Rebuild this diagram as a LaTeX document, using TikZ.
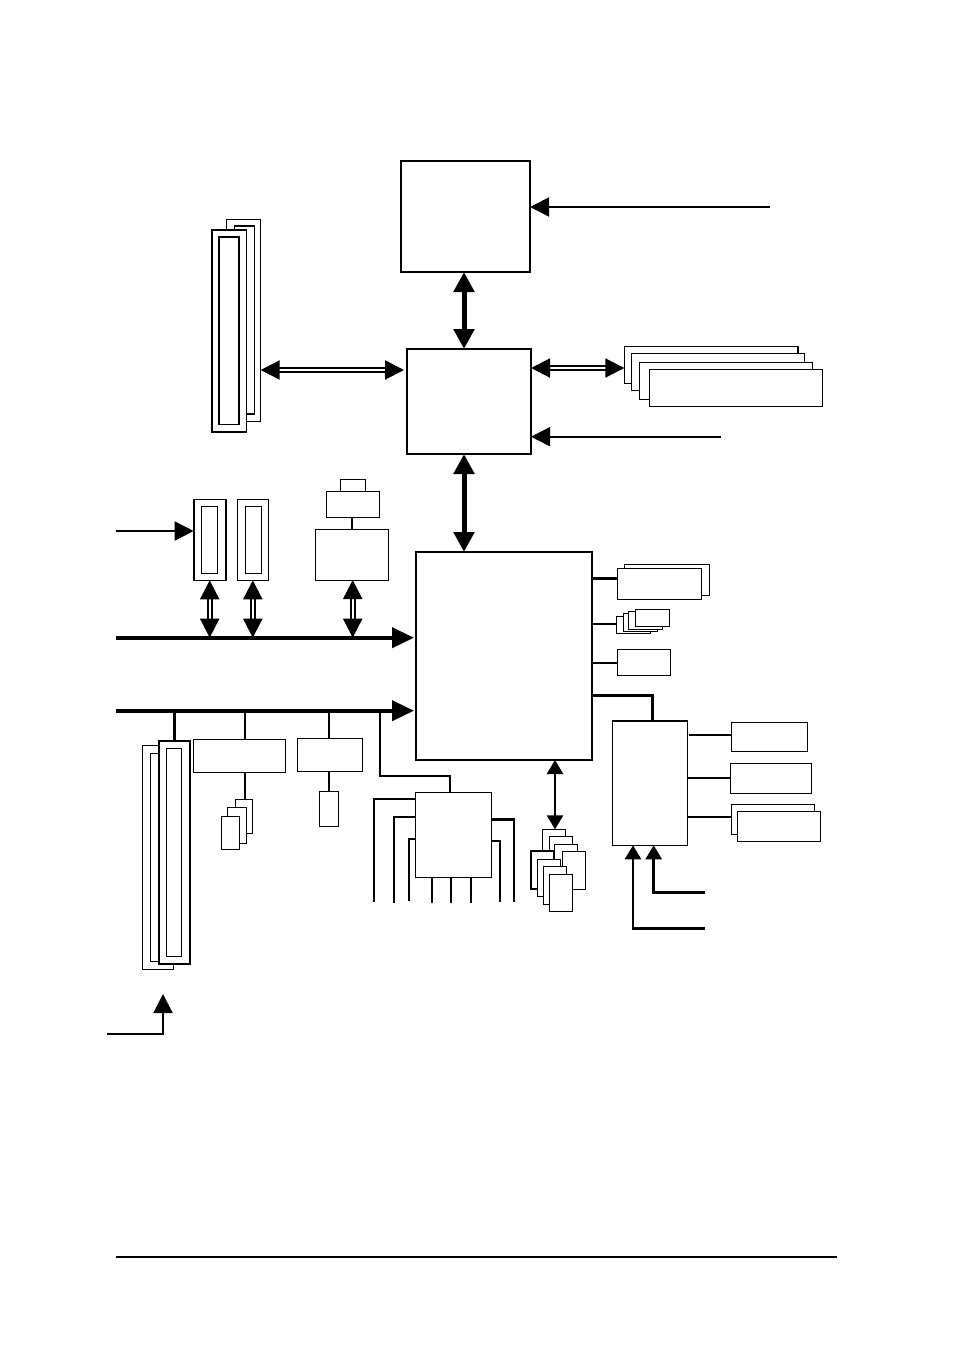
\documentclass[tikz,border=0pt]{standalone}
\usepackage{tikz}
\usetikzlibrary{arrows.meta}

\begin{document}
\begin{tikzpicture}[
    x=1pt, y=-1pt,
    box/.style={
        rectangle, draw=black, fill=white, line width=1.4pt,
        anchor=north west, inner sep=0pt, outer sep=0pt
    },
    chip/.style={box, line width=2pt},
    wh/.style 2 args={minimum width=#1pt, minimum height=#2pt},
    wire/.style={line width=2pt},
    fatwire/.style={line width=2.8pt},
    inarrow/.style={-{Triangle[length=19pt,width=19pt]}, line width=2pt},
    uparrow/.style={-{Triangle[length=14pt,width=16pt]}, line width=2.6pt, line join=miter},
    busarrow/.style={-{Triangle[length=22pt,width=20pt]}, line width=4pt},
    bigboth/.style={arrows={{Triangle[length=20pt,width=20pt]}-{Triangle[length=20pt,width=20pt]}}, line width=5pt},
    thinboth/.style={arrows={{Triangle[length=14pt,width=16pt]}-{Triangle[length=14pt,width=16pt]}}, line width=2.6pt},
    twinboth/.style={arrows={{Triangle[length=19pt,width=19pt]}-{Triangle[length=19pt,width=19pt]}}, double, double distance=2.4pt, line width=2pt}
]
\useasboundingbox (0,0) rectangle (953,1352);

% Top row
\node[chip, wh={129}{111}, line width=2.6pt] (cpu) at (401,161) {};
\node[chip, wh={124}{105}] (north) at (407,349) {};
\node[chip, wh={176}{208}] (south) at (416,552) {};

% Memory slots
\node[box, wh={34.5}{202}] (dimmb) at (226.2,219.5) {};
\node[box, wh={20}{188}] (dimmbi) at (234.3,226) {};
\node[box, wh={34.5}{202}, line width=1.7pt] (dimma) at (212,230) {};
\node[box, wh={20}{187.5}] (dimmai) at (219,237) {};

% AGP stack
\node[box, wh={173.5}{37}] (agpa) at (624.3,346.4) {};
\node[box, wh={173.5}{37}] (agpb) at (631.2,353.4) {};
\node[box, wh={173.5}{37}] (agpc) at (639.2,362.2) {};
\node[box, wh={173.5}{37}] (agpd) at (649.2,369.3) {};

% PCI slots and the card above the bus
\node[box, wh={32}{81}, line width=1.6pt] (pcia) at (193.7,499.3) {};
\node[box, wh={16}{67}] (pciai) at (201.4,506.3) {};
\node[box, wh={31}{81}] (pcib) at (237.3,499.3) {};
\node[box, wh={16.4}{67}] (pcibi) at (245.3,506.3) {};
\node[box, wh={25.4}{12}] (sockb) at (340.3,479.3) {};
\node[box, wh={53.4}{26}] (socka) at (326.3,491.3) {};
\node[box, wh={73.4}{51}] (riser) at (315.3,529.3) {};

% PCI Express slots
\node[box, wh={31.4}{223.6}] (pcieb) at (142.3,745.7) {};
\node[box, wh={24}{208}] (pciebi) at (150.3,753.3) {};
\node[box, wh={31}{223.6}, line width=1.7pt] (pciea) at (158.7,740.7) {};
\node[box, wh={15.4}{208.4}] (pcieai) at (166.3,748.3) {};

% Under the second bus
\node[box, wh={92}{33}] (ctla) at (193.3,739.3) {};
\node[box, wh={65.4}{33}] (ctlb) at (297.3,738.3) {};
\node[box, wh={17.4}{34}] (porta) at (235.3,799.3) {};
\node[box, wh={19.4}{35.6}] (portb) at (227.3,807.7) {};
\node[box, wh={18.4}{33}] (portc) at (221.3,816.3) {};
\node[box, wh={19.4}{35.4}] (portd) at (319.3,791.3) {};

% Super I/O
\node[box, wh={76}{85}] (sio) at (415.3,792.3) {};

% USB stack
\node[box, wh={23.4}{38}] (usba) at (542.3,829.3) {};
\node[box, wh={23.4}{38}] (usbb) at (549.3,836.3) {};
\node[box, wh={23.4}{38}] (usbc) at (554.3,844.3) {};
\node[box, wh={23.4}{38}] (usbd) at (562.3,851.3) {};
\node[box, wh={23.4}{38}, line width=1.7pt] (usbe) at (530.9,851.3) {};
\node[box, wh={23.4}{37}] (usbf) at (537.3,859.3) {};
\node[box, wh={23.4}{38}] (usbg) at (543.3,866.3) {};
\node[box, wh={23.4}{37}] (usbh) at (549.3,874.3) {};

% Right of the south bridge
\node[box, wh={85.4}{31}] (idea) at (624.3,564.3) {};
\node[box, wh={84.4}{31.4}] (ideb) at (617.3,568.3) {};
\node[box, wh={34.4}{17}] (sata) at (616.3,616.3) {};
\node[box, wh={34.4}{18}] (satb) at (623.3,613.3) {};
\node[box, wh={34.4}{18}] (satc) at (628.3,611.3) {};
\node[box, wh={34.4}{17}] (satd) at (635.3,609.3) {};
\node[box, wh={53}{26}] (codec) at (617.3,649.3) {};

% Network controller
\node[box, wh={75.4}{124.3}] (lan) at (612.3,721) {};
\node[box, wh={76}{29}] (lana) at (731.3,722.3) {};
\node[box, wh={81}{30}] (lanb) at (730.3,763.3) {};
\node[box, wh={82.6}{29.6}] (lanc) at (731.7,804.7) {};
\node[box, wh={83}{30}] (land) at (737.3,811.3) {};

% Free ends
\coordinate (fsb) at (770,207);
\coordinate (gfx) at (720.5,436.7);
\coordinate (pcin) at (116,531);
\coordinate (busa) at (116,637.7);
\coordinate (busb) at (116,710.7);
\coordinate (slotin) at (107,1034);
\coordinate (tipa) at (163,994);
\coordinate (tapa) at (245,710.7);
\coordinate (tapb) at (329,710.7);
\coordinate (tapc) at (380.3,710.7);
\coordinate (tapr) at (352.7,580);
\coordinate (lanin) at (705,892.3);
\coordinate (lanpw) at (705,928.3);
\coordinate (rulea) at (116,1257);
\coordinate (ruleb) at (836.5,1257);

% Arrows around the bridges
\draw[inarrow] (fsb) -- (cpu.east |- fsb);
\draw[inarrow] (gfx) -- (north.east |- gfx);
\draw[bigboth] (464,0 |- cpu.south) -- (464,0 |- north.north);
\draw[bigboth] (464,0 |- north.south) -- (464,0 |- south.north);
\draw[twinboth] (dimmb.east |- 0,370) -- ([xshift=-3pt]north.west |- 0,370);
\draw[twinboth] (north.east |- 0,368) -- (agpa.west |- 0,368);

% Buses
\draw[busarrow] (busa) -- ([xshift=-2pt]south.west |- busa);
\draw[busarrow] (busb) -- ([xshift=-2pt]south.west |- busb);
\draw[inarrow] (pcin) -- (pcia.west |- pcin);
\draw[twinboth] (pcia.south) -- (pcia.south |- busa);
\draw[twinboth] (pcib.south) -- (pcib.south |- busa);
\draw[twinboth] (tapr) -- (tapr |- busa);
\draw[wire] (socka.south -| riser.north) -- (riser.north);

% Taps off the second bus
\draw[fatwire] (pciea.north |- busb) -- (pciea.north);
\draw[wire] (tapa) -- (tapa |- ctla.north);
\draw[fatwire] (tapa |- ctla.south) -- (tapa |- porta.north);
\draw[wire] (tapb) -- (tapb |- ctlb.north);
\draw[fatwire] (tapb |- ctlb.south) -- (tapb |- portd.north);
\draw[wire, line join=miter] (tapc) |- (450,775.7) -- (450,0 |- sio.north);
\draw[inarrow, line join=miter] (slotin) -| (tipa);

% Super I/O pins
\draw[wire, line join=miter] (sio.west |- 0,799.3) -| (374,901.7);
\draw[wire, line join=miter] (sio.west |- 0,817.3) -| (394,902.7);
\draw[wire, line join=miter] (sio.west |- 0,839.3) -| (409,900.7);
\draw[wire] (431.7,0 |- sio.south) -- (431.7,902.7);
\draw[wire] (450.7,0 |- sio.south) -- (450.7,902.7);
\draw[wire] (471,0 |- sio.south) -- (471,902.7);
\draw[fatwire, line join=miter] (sio.east |- 0,819.3) -| (514,901.7);
\draw[wire, line join=miter] (sio.east |- 0,840.7) -| (500,901.7);
\draw[thinboth] (555,0 |- south.south) -- (555,0 |- usba.north);

% South bridge side links
\draw[fatwire] (south.east |- 0,578.3) -- (ideb.west |- 0,578.3);
\draw[wire] (south.east |- 0,623.7) -- (sata.west |- 0,623.7);
\draw[wire] (south.east |- 0,663) -- (codec.west |- 0,663);
\draw[line width=3.4pt, line join=miter] (south.east |- 0,695.7) -| (652.7,0 |- lan.north);
\draw[wire] (689,734.7) -- (lana.west |- 0,734.7);
\draw[wire] (lan.east |- 0,777.7) -- (lanb.west |- 0,777.7);
\draw[wire] (lan.east |- 0,816.7) -- (lanc.west |- 0,816.7);
\draw[uparrow] (lanin) -| (653.7,0 |- lan.south);
\draw[uparrow] (lanpw) -| (633,0 |- lan.south);

% Page rule
\draw[line width=1.6pt] (rulea) -- (ruleb);

\end{tikzpicture}
\end{document}
